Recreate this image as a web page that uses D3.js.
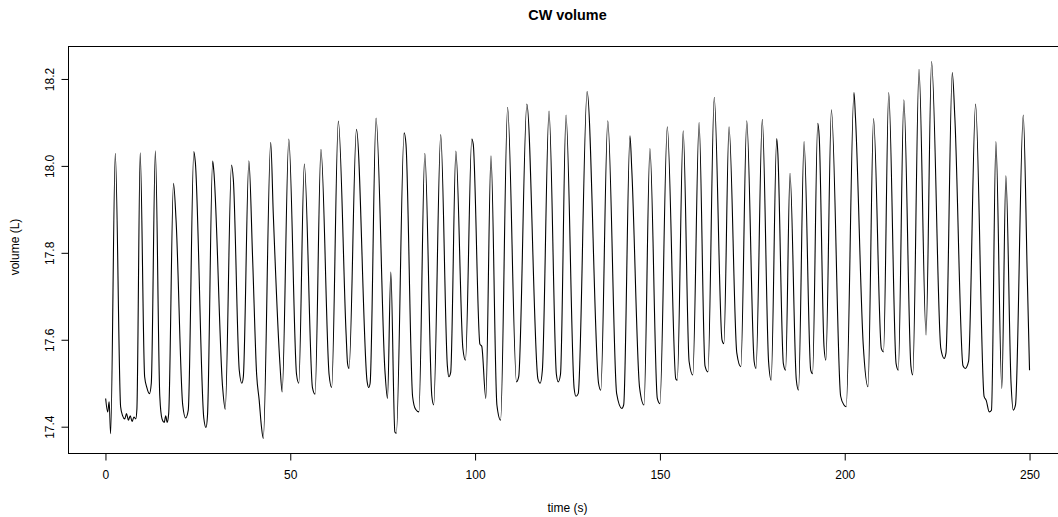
<!DOCTYPE html>
<html>
<head>
<meta charset="utf-8">
<script src="https://cdn.jsdelivr.net/npm/d3@7"></script>
<style>
  html, body { margin: 0; padding: 0; background: #fff; }
  svg { display: block; }
  text { font-family: "Liberation Sans", Arial, Helvetica, sans-serif; fill: #000; }
</style>
</head>
<body>
<svg id="chart" width="1058" height="517"></svg>
<script>
// Chest-wall volume trace: turning points of the signal (time in s, volume in L)
const timeS = [
  0.05, 0.6, 1.0, 1.4, 2.66, 4.1, 4.65, 5.2, 5.7, 6.2, 6.7, 7.2, 7.7, 8.2, 8.5, 9.4,
  10.6, 11.2, 11.9, 12.4, 13.5, 14.7, 15.3, 15.9, 16.3, 16.7, 17.1, 18.4, 19.1,
  20.9, 21.7, 22.4, 23.9, 24.3, 26.6, 27.2, 27.6, 29.0, 29.3, 31.7, 32.4, 34.1, 34.6,
  36.2, 36.9, 37.3, 38.8, 39.8, 40.9, 41.6, 42.2, 42.7, 44.7, 45.4, 47.2, 47.8, 49.6,
  51.7, 52.3, 53.8, 56.0, 56.7, 58.3, 60.5, 61.2, 63.0, 65.1, 65.5, 65.9, 67.9,
  70.8, 71.2, 71.6, 73.2, 75.6, 76.3, 77.2, 78.3, 78.7, 80.8, 81.3, 83.1, 83.9, 84.8,
  86.4, 88.3, 88.8, 90.7, 92.5, 92.9, 93.4, 94.8, 96.7, 97.4, 99.1, 99.5,
  101.3, 101.8, 102.9, 104.3, 105.9, 106.9, 108.8, 111.2, 111.8, 114.0,
  117.0, 117.6, 118.2, 120.0, 122.0, 122.5, 123.1, 124.6, 126.8, 127.3, 127.9,
  130.3, 133.4, 134.0, 135.9, 138.3, 139.7, 140.2, 141.9, 142.4, 144.5, 145.7, 147.3,
  149.3, 150.0, 152.0, 154.3, 154.7, 156.3, 157.9, 158.9, 160.6, 162.2, 163.0, 164.7,
  166.8, 167.3, 168.7, 170.8, 171.9, 173.5, 175.5, 176.0, 177.7, 179.4, 180.1,
  181.6, 181.9, 183.4, 184.0, 185.2, 186.9, 187.5, 189.0, 190.8, 191.3, 192.7, 193.1,
  194.4, 194.9, 196.4, 198.9, 199.8, 200.4, 202.5, 202.9, 205.0, 206.3, 207.8,
  209.9, 210.5, 211.9, 213.9, 214.5, 216.0, 217.9, 218.4, 220.1, 222.0, 223.5,
  226.0, 226.9, 227.4, 229.1, 229.8, 232.0, 232.6, 233.5, 235.4, 237.7, 238.3,
  239.1, 239.7, 240.9, 242.5, 243.6, 245.0, 245.6, 246.2, 248.3, 249.4, 250.0
];

const volumeL = [
  17.465, 17.434, 17.457, 17.384, 18.029, 17.446, 17.425, 17.418, 17.43, 17.415, 17.425, 17.412, 17.422, 17.418, 17.44, 18.03,
  17.515, 17.49, 17.476, 17.50, 18.035, 17.47, 17.418, 17.41, 17.425, 17.41, 17.43, 17.96, 17.875,
  17.45, 17.42, 17.438, 18.033, 18.01, 17.42, 17.398, 17.425, 18.011, 17.99, 17.49, 17.44, 18.002, 17.968,
  17.53, 17.50, 17.515, 18.012, 17.79, 17.52, 17.46, 17.40, 17.373, 18.054, 17.89, 17.545, 17.48, 18.062,
  17.52, 17.50, 18.004, 17.49, 17.475, 18.038, 17.52, 17.49, 18.103, 17.614, 17.545, 17.534, 18.084,
  17.503, 17.49, 17.50, 18.11, 17.53, 17.465, 17.756, 17.388, 17.385, 18.076, 18.05, 17.469, 17.44, 17.434,
  18.029, 17.47, 17.45, 18.072, 17.54, 17.515, 17.525, 18.034, 17.58, 17.553, 18.062, 18.05,
  17.59, 17.585, 17.465, 18.023, 17.45, 17.415, 18.135, 17.503, 17.515, 18.142,
  17.51, 17.50, 17.53, 18.126, 17.52, 17.503, 17.52, 18.117, 17.488, 17.47, 17.476,
  18.171, 17.50, 17.484, 18.104, 17.476, 17.442, 17.45, 18.069, 17.99, 17.49, 17.45, 18.040,
  17.465, 17.453, 18.09, 17.51, 17.507, 18.081, 17.55, 17.519, 18.10, 17.54, 17.526, 18.158,
  17.60, 17.591, 18.09, 17.57, 17.538, 18.104, 17.55, 17.534, 18.107, 17.55, 17.507,
  18.063, 18.03, 17.545, 17.53, 17.983, 17.508, 17.484, 18.056, 17.53, 17.522, 18.098, 18.067,
  17.584, 17.553, 18.129, 17.47, 17.45, 17.446, 18.169, 18.113, 17.59, 17.492, 18.109,
  17.58, 17.572, 18.169, 17.545, 17.53, 18.152, 17.54, 17.519, 18.222, 17.611, 18.24,
  17.58, 17.557, 17.57, 18.215, 18.11, 17.54, 17.534, 17.55, 18.142, 17.47, 17.46,
  17.434, 17.438, 18.056, 17.488, 17.977, 17.50, 17.438, 17.45, 18.117, 17.741, 17.53
];

const xTicks = [0, 50, 100, 150, 200, 250];
const yTicks = [17.4, 17.6, 17.8, 18.0, 18.2];

const titleText = "CW volume";
const xLabel = "time (s)";
const yLabel = "volume (L)";

const svg = d3.select("#chart");

// Plot region (right side runs past the canvas edge)
const plot = { left: 68.5, top: 46.5, right: 1066.5, bottom: 453.5 };

// Axis ranges padded by 4% on each side
const padRange = ([a, b]) => { const e = 0.04 * (b - a); return [a - e, b + e]; };

const x = d3.scaleLinear()
  .domain(padRange(d3.extent(timeS)))
  .range([plot.left, plot.right]);
x.domain(padRange([0, 250]));

const y = d3.scaleLinear()
  .domain(padRange(d3.extent(volumeL)))
  .range([plot.bottom, plot.top]);

const points = timeS.map((t, i) => [t, volumeL[i]]);

// Trace
const line = d3.line()
  .x(d => x(d[0]))
  .y(d => y(d[1]))
  .curve(d3.curveMonotoneX);

svg.append("path")
  .datum(points)
  .attr("d", line)
  .attr("fill", "none")
  .attr("stroke", "#000")
  .attr("stroke-width", 1.1)
  .attr("stroke-linejoin", "round");

// Frame
svg.append("rect")
  .attr("x", plot.left)
  .attr("y", plot.top)
  .attr("width", plot.right - plot.left)
  .attr("height", plot.bottom - plot.top)
  .attr("fill", "none")
  .attr("stroke", "#000")
  .attr("stroke-width", 1);

// Bottom axis
const xAxis = d3.axisBottom(x)
  .tickValues(xTicks)
  .tickSize(7)
  .tickPadding(10)
  .tickFormat(d3.format("d"));

const gx = svg.append("g")
  .attr("transform", `translate(0,${plot.bottom})`)
  .call(xAxis);
gx.select(".domain")
  .attr("d", `M${x(xTicks[0])},0H${x(xTicks[xTicks.length - 1])}`);
gx.selectAll(".tick line").attr("stroke", "#000");
gx.selectAll(".tick text")
  .attr("font-size", 12)
  .attr("font-family", "Liberation Sans, Arial, sans-serif");

// Left axis with labels turned to run upward
const yAxis = d3.axisLeft(y)
  .tickValues(yTicks)
  .tickSize(7)
  .tickFormat(d3.format(".1f"));

const gy = svg.append("g")
  .attr("transform", `translate(${plot.left},0)`)
  .call(yAxis);
gy.select(".domain")
  .attr("d", `M0,${y(yTicks[0])}V${y(yTicks[yTicks.length - 1])}`);
gy.selectAll(".tick line").attr("stroke", "#000");
gy.selectAll(".tick text")
  .attr("font-size", 12)
  .attr("font-family", "Liberation Sans, Arial, sans-serif")
  .attr("x", null)
  .attr("dy", null)
  .attr("text-anchor", "middle")
  .attr("transform", "translate(-14.8,0) rotate(-90)");

// Titles
const midX = (plot.left + plot.right) / 2;
const midY = (plot.top + plot.bottom) / 2;

svg.append("text")
  .attr("x", midX)
  .attr("y", 20)
  .attr("text-anchor", "middle")
  .attr("font-size", 14.4)
  .attr("font-weight", "bold")
  .text(titleText);

svg.append("text")
  .attr("x", midX)
  .attr("y", 512)
  .attr("text-anchor", "middle")
  .attr("font-size", 12)
  .text(xLabel);

svg.append("text")
  .attr("transform", `translate(19,${midY - 3}) rotate(-90)`)
  .attr("text-anchor", "middle")
  .attr("font-size", 12)
  .text(yLabel);
</script>
</body>
</html>
